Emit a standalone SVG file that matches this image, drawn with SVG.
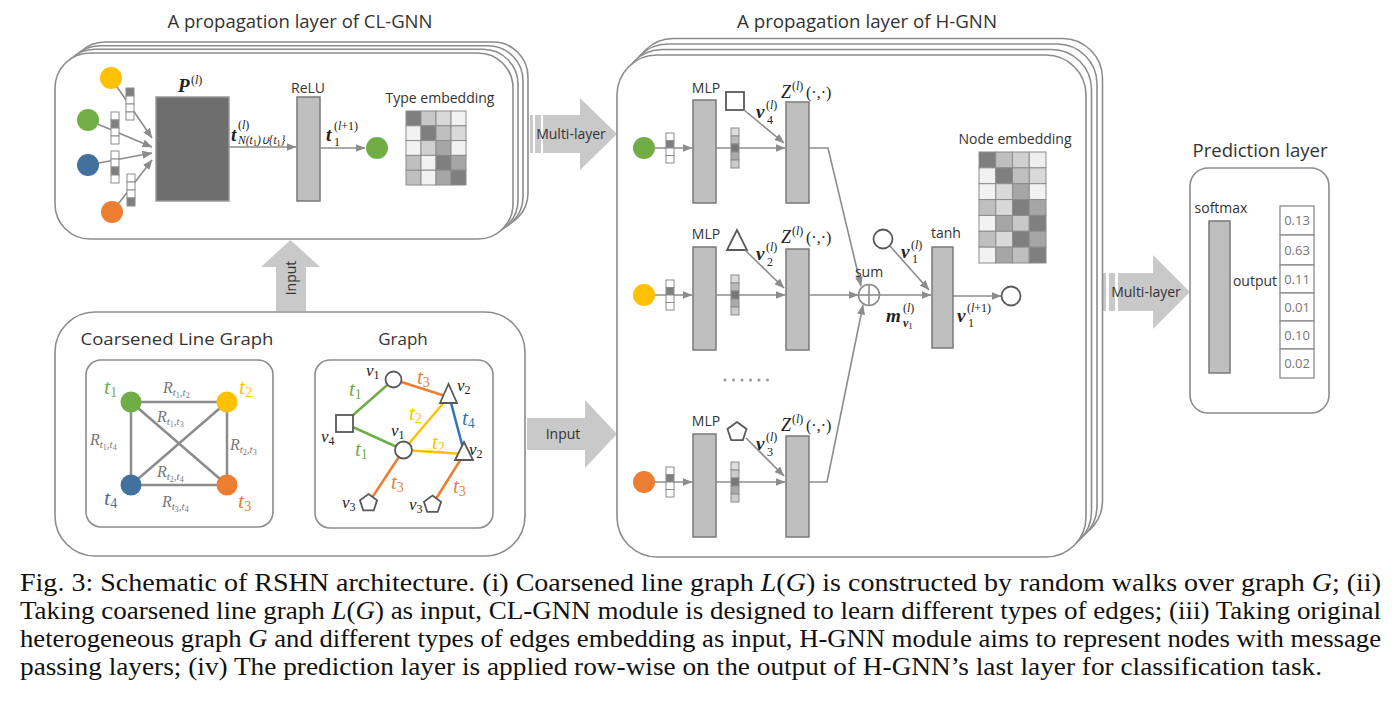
<svg xmlns="http://www.w3.org/2000/svg" width="1400" height="709" viewBox="0 0 1400 709">
<defs>
<style>
.box{fill:#fff;stroke:#8c8c8c;stroke-width:1.6}
.gb{fill:#bfbfbf;stroke:#7a7a7a;stroke-width:1.5}
.ln{fill:none;stroke:#8c8c8c;stroke-width:1.6}
.ar{marker-end:url(#ah)}
.cell{stroke:#8c8c8c;stroke-width:1}
.big{fill:#c9c9c9}
.sans{font-family:"Open Sans","Liberation Sans",sans-serif;fill:#333}
.serif{font-family:"Liberation Serif","Times New Roman",Times,serif;fill:#222}
.it{font-style:italic}
.up{font-style:normal;font-weight:normal}
.bi{font-style:italic;font-weight:bold}
.gray{fill:#767676}
.shape{fill:#fff;stroke:#595959;stroke-width:1.8}
.cap{font-family:"Liberation Serif","Times New Roman",Times,serif;font-size:25px;fill:#111}
.eg{stroke-width:2.5;fill:none}
</style>
<marker id="ah" viewBox="0 0 10 8" refX="9.5" refY="4" markerWidth="10" markerHeight="8" orient="auto" markerUnits="userSpaceOnUse"><path d="M0,0 L10,4 L0,8 z" fill="#8c8c8c"/></marker>
</defs>
<rect width="1400" height="709" fill="#fff"/>

<!-- Titles -->
<text class="sans" x="300" y="28" font-size="18" text-anchor="middle" textLength="265" lengthAdjust="spacingAndGlyphs">A propagation layer of CL-GNN</text>
<text class="sans" x="867" y="28" font-size="18" text-anchor="middle" textLength="260" lengthAdjust="spacingAndGlyphs">A propagation layer of H-GNN</text>
<text class="sans" x="1260" y="157" font-size="18" text-anchor="middle" textLength="135" lengthAdjust="spacingAndGlyphs">Prediction layer</text>

<!-- CL-GNN block -->
<g id="clgnn">
<rect class="box" x="70" y="42" width="458" height="186" rx="35"/>
<rect class="box" x="65" y="45.7" width="458" height="186" rx="35"/>
<rect class="box" x="60" y="49.3" width="458" height="186" rx="35"/>
<rect class="box" x="55" y="53" width="458" height="186" rx="35"/>
<g id="cl-inputs">
<line class="ln ar" x1="111" y1="78" x2="152" y2="138"/>
<line class="ln ar" x1="88" y1="120" x2="152" y2="147"/>
<line class="ln ar" x1="88" y1="165" x2="152" y2="153"/>
<line class="ln ar" x1="112" y1="212" x2="152" y2="160"/>
<circle cx="111" cy="78" r="11" fill="#ffc000"/>
<circle cx="88" cy="120" r="11" fill="#70ad47"/>
<circle cx="88" cy="165" r="11" fill="#41719c"/>
<circle cx="112" cy="212" r="11" fill="#ed7d31"/>
<g class="cell">
<rect x="126" y="88" width="8" height="8" fill="#7f7f7f"/><rect x="126" y="96" width="8" height="8" fill="#fff"/><rect x="126" y="104" width="8" height="8" fill="#fff"/><rect x="126" y="112" width="8" height="8" fill="#fff"/>
<rect x="111" y="112" width="8" height="8" fill="#fff"/><rect x="111" y="120" width="8" height="8" fill="#7f7f7f"/><rect x="111" y="128" width="8" height="8" fill="#fff"/><rect x="111" y="136" width="8" height="8" fill="#fff"/>
<rect x="111" y="151" width="8" height="8" fill="#fff"/><rect x="111" y="159" width="8" height="8" fill="#fff"/><rect x="111" y="167" width="8" height="8" fill="#7f7f7f"/><rect x="111" y="175" width="8" height="8" fill="#fff"/>
<rect x="127" y="174" width="8" height="8" fill="#fff"/><rect x="127" y="182" width="8" height="8" fill="#fff"/><rect x="127" y="190" width="8" height="8" fill="#fff"/><rect x="127" y="198" width="8" height="8" fill="#7f7f7f"/>
</g>
</g>
<g id="p-box">
<rect x="156" y="97" width="73" height="104" fill="#6e6e6e" stroke="#999" stroke-width="1.5"/>
<text class="serif bi" x="178" y="92" font-size="19">P</text>
<text class="serif" x="191" y="84" font-size="12">(<tspan class="it">l</tspan>)</text>
</g>
<g id="relu">
<rect class="gb" x="297" y="97" width="23" height="104"/>
<text class="sans" x="308" y="93" font-size="14" text-anchor="middle">ReLU</text>
</g>
<line class="ln ar" x1="229" y1="147" x2="296" y2="147"/>
<text class="serif bi" x="231" y="141" font-size="19">t</text>
<text class="serif" x="238" y="129" font-size="12">(<tspan class="it">l</tspan>)</text>
<text class="serif it" x="238" y="144" font-size="11.5">N(t<tspan class="up" font-size="8.5" dy="2">1</tspan><tspan dy="-2">)∪{t</tspan><tspan class="up" font-size="8.5" dy="2">1</tspan><tspan dy="-2">}</tspan></text>
<line class="ln ar" x1="320" y1="148" x2="365" y2="148"/>
<circle cx="377" cy="148" r="11" fill="#70ad47"/>
<text class="serif bi" x="326" y="141" font-size="19">t</text>
<text class="serif" x="334" y="130" font-size="12">(<tspan class="it">l</tspan>+1)</text>
<text class="serif" x="334" y="146" font-size="12">1</text>
<g id="type-emb">
<text class="sans" x="440" y="103" font-size="14" text-anchor="middle">Type embedding</text>
<g class="cell">
<rect x="406" y="111" width="15" height="14.8" fill="#7f7f7f"/><rect x="421" y="111" width="15" height="14.8" fill="#c8c8c8"/><rect x="436" y="111" width="15" height="14.8" fill="#d9d9d9"/><rect x="451" y="111" width="15" height="14.8" fill="#f2f2f2"/>
<rect x="406" y="125.8" width="15" height="14.8" fill="#f2f2f2"/><rect x="421" y="125.8" width="15" height="14.8" fill="#7f7f7f"/><rect x="436" y="125.8" width="15" height="14.8" fill="#bfbfbf"/><rect x="451" y="125.8" width="15" height="14.8" fill="#d9d9d9"/>
<rect x="406" y="140.6" width="15" height="14.8" fill="#f2f2f2"/><rect x="421" y="140.6" width="15" height="14.8" fill="#d0d0d0"/><rect x="436" y="140.6" width="15" height="14.8" fill="#a6a6a6"/><rect x="451" y="140.6" width="15" height="14.8" fill="#f2f2f2"/>
<rect x="406" y="155.4" width="15" height="14.8" fill="#bfbfbf"/><rect x="421" y="155.4" width="15" height="14.8" fill="#f2f2f2"/><rect x="436" y="155.4" width="15" height="14.8" fill="#7f7f7f"/><rect x="451" y="155.4" width="15" height="14.8" fill="#a6a6a6"/>
<rect x="406" y="170.2" width="15" height="14.8" fill="#bfbfbf"/><rect x="421" y="170.2" width="15" height="14.8" fill="#f2f2f2"/><rect x="436" y="170.2" width="15" height="14.8" fill="#a6a6a6"/><rect x="451" y="170.2" width="15" height="14.8" fill="#7f7f7f"/>
</g>
</g>
</g>

<!-- Big arrows -->
<g id="big-arrows">
<rect class="big" x="530" y="115" width="3" height="38"/><rect class="big" x="535" y="115" width="6" height="38"/>
<polygon class="big" points="543,115 580,115 580,98 617,134 580,170 580,153 543,153"/>
<text class="sans" x="571" y="139" font-size="14" text-anchor="middle">Multi-layer</text>
<polygon class="big" points="276,311 276,267 261,267 290.5,240 320,267 306,267 306,311"/>
<text class="sans" font-size="14" text-anchor="middle" transform="translate(296,278) rotate(-90)">Input</text>
<polygon class="big" points="527,418 585,418 585,400 617,434 585,468 585,450 527,450"/>
<text class="sans" x="563" y="439" font-size="14" text-anchor="middle">Input</text>
<rect class="big" x="1103" y="273" width="3" height="38"/><rect class="big" x="1109" y="273" width="6" height="38"/>
<polygon class="big" points="1118,273 1153,273 1153,255 1190,292 1153,329 1153,311 1118,311"/>
<text class="sans" x="1146" y="297" font-size="14" text-anchor="middle">Multi-layer</text>
</g>

<!-- Bottom-left inputs -->
<g id="inputs-box">
<rect class="box" x="55" y="312" width="470" height="244" rx="40"/>
<text class="sans" x="177" y="345" font-size="17" text-anchor="middle" textLength="193" lengthAdjust="spacingAndGlyphs">Coarsened  Line Graph</text>
<text class="sans" x="403" y="345" font-size="17" text-anchor="middle">Graph</text>
</g>
<g id="cl-graph">
<rect class="box" x="86" y="360" width="187" height="167" rx="15"/>
<g stroke="#8c8c8c" stroke-width="2.5">
<line x1="131" y1="402" x2="227" y2="402"/><line x1="131" y1="402" x2="131" y2="485"/><line x1="227" y1="402" x2="227" y2="485"/>
<line x1="131" y1="485" x2="227" y2="485"/><line x1="131" y1="402" x2="227" y2="485"/><line x1="227" y1="402" x2="131" y2="485"/>
</g>
<circle cx="131" cy="402" r="10.5" fill="#70ad47"/>
<circle cx="227" cy="402" r="10.5" fill="#ffc000"/>
<circle cx="131" cy="485" r="10.5" fill="#41719c"/>
<circle cx="227" cy="485" r="10.5" fill="#ed7d31"/>
<g class="serif it" font-size="22">
<text x="104" y="394" fill="#70ad47">t<tspan class="up" dy="3" font-size="14">1</tspan></text>
<text x="239" y="394" fill="#ffc000">t<tspan class="up" dy="3" font-size="14">2</tspan></text>
<text x="104" y="505" fill="#41719c">t<tspan class="up" dy="3" font-size="14">4</tspan></text>
<text x="238" y="508" fill="#ed7d31">t<tspan class="up" dy="3" font-size="14">3</tspan></text>
</g>
<g class="serif it" font-size="16">
<text x="163" y="393" class="gray">R<tspan dy="3" font-size="11">t</tspan><tspan class="up" dy="2" font-size="8">1</tspan><tspan dy="-2" font-size="11">,t</tspan><tspan class="up" dy="2" font-size="8">2</tspan></text>
<text x="157" y="422" class="gray">R<tspan dy="3" font-size="11">t</tspan><tspan class="up" dy="2" font-size="8">1</tspan><tspan dy="-2" font-size="11">,t</tspan><tspan class="up" dy="2" font-size="8">3</tspan></text>
<text x="90" y="445" class="gray">R<tspan dy="3" font-size="11">t</tspan><tspan class="up" dy="2" font-size="8">1</tspan><tspan dy="-2" font-size="11">,t</tspan><tspan class="up" dy="2" font-size="8">4</tspan></text>
<text x="230" y="450" class="gray">R<tspan dy="3" font-size="11">t</tspan><tspan class="up" dy="2" font-size="8">2</tspan><tspan dy="-2" font-size="11">,t</tspan><tspan class="up" dy="2" font-size="8">3</tspan></text>
<text x="157" y="477" class="gray">R<tspan dy="3" font-size="11">t</tspan><tspan class="up" dy="2" font-size="8">2</tspan><tspan dy="-2" font-size="11">,t</tspan><tspan class="up" dy="2" font-size="8">4</tspan></text>
<text x="162" y="507" class="gray">R<tspan dy="3" font-size="11">t</tspan><tspan class="up" dy="2" font-size="8">3</tspan><tspan dy="-2" font-size="11">,t</tspan><tspan class="up" dy="2" font-size="8">4</tspan></text>
</g>
</g>
<g id="het-graph">
<rect class="box" x="315" y="360" width="178" height="168" rx="15"/>
<line class="eg" stroke="#70ad47" x1="344" y1="423" x2="393.5" y2="379.5"/>
<line class="eg" stroke="#70ad47" x1="344" y1="423" x2="403.5" y2="450"/>
<line class="eg" stroke="#ed7d31" x1="393.5" y1="379.5" x2="448.5" y2="397"/>
<line class="eg" stroke="#ffc000" x1="403.5" y1="450" x2="448.5" y2="397"/>
<line class="eg" stroke="#ffc000" x1="403.5" y1="450" x2="464" y2="454"/>
<line class="eg" stroke="#2e75b6" x1="450" y1="399" x2="464" y2="452"/>
<line class="eg" stroke="#ed7d31" x1="403.5" y1="450" x2="368.5" y2="503"/>
<line class="eg" stroke="#ed7d31" x1="464" y1="454" x2="432.5" y2="504.5"/>
<circle class="shape" cx="393.5" cy="379.5" r="8"/>
<polygon class="shape" points="448.5,384 440,403 457,403"/>
<rect class="shape" x="336" y="415" width="17" height="17"/>
<circle class="shape" cx="403.5" cy="450" r="8.5"/>
<polygon class="shape" points="464,442 455,460 473,460"/>
<polygon class="shape" points="368.5,494 377.06,500.22 373.79,510.28 363.21,510.28 359.94,500.22"/>
<polygon class="shape" points="432.5,495.5 441.06,501.72 437.79,511.78 427.21,511.78 423.94,501.72"/>
<g class="serif it" font-size="17">
<text x="366" y="376">v<tspan class="up" dy="3" font-size="12">1</tspan></text>
<text x="457" y="391">v<tspan class="up" dy="3" font-size="12">2</tspan></text>
<text x="321" y="442">v<tspan class="up" dy="3" font-size="12">4</tspan></text>
<text x="391" y="436">v<tspan class="up" dy="3" font-size="12">1</tspan></text>
<text x="469" y="455">v<tspan class="up" dy="3" font-size="12">2</tspan></text>
<text x="342" y="508">v<tspan class="up" dy="3" font-size="12">3</tspan></text>
<text x="409" y="510">v<tspan class="up" dy="3" font-size="12">3</tspan></text>
</g>
<g class="serif it" font-size="21">
<text x="349" y="396" fill="#70ad47">t<tspan class="up" dy="3" font-size="14">1</tspan></text>
<text x="417" y="384" fill="#ed7d31">t<tspan class="up" dy="3" font-size="14">3</tspan></text>
<text x="409" y="420" fill="#ffc000">t<tspan class="up" dy="3" font-size="14">2</tspan></text>
<text x="462" y="425" fill="#2e75b6">t<tspan class="up" dy="3" font-size="14">4</tspan></text>
<text x="355" y="456" fill="#70ad47">t<tspan class="up" dy="3" font-size="14">1</tspan></text>
<text x="432" y="449" fill="#ffc000">t<tspan class="up" dy="3" font-size="14">2</tspan></text>
<text x="391" y="489" fill="#ed7d31">t<tspan class="up" dy="3" font-size="14">3</tspan></text>
<text x="453" y="493" fill="#ed7d31">t<tspan class="up" dy="3" font-size="14">3</tspan></text>
</g>
</g>

<!-- H-GNN block -->
<g id="hgnn">
<rect class="box" x="633.5" y="38.5" width="469" height="502" rx="40"/>
<rect class="box" x="628" y="44" width="469" height="502" rx="40"/>
<rect class="box" x="622.5" y="49.5" width="469" height="502" rx="40"/>
<rect class="box" x="617" y="55" width="469" height="502" rx="40"/>
</g>

<g id="row1">
<line class="ln ar" x1="655" y1="148" x2="692" y2="148"/>
<circle cx="644" cy="148" r="11" fill="#70ad47"/>
<g class="cell"><rect x="666" y="133" width="8" height="7.5" fill="#fff"/><rect x="666" y="140.5" width="8" height="7.5" fill="#7f7f7f"/><rect x="666" y="148" width="8" height="7.5" fill="#fff"/><rect x="666" y="155.5" width="8" height="7.5" fill="#fff"/></g>
<rect class="gb" x="693" y="100" width="23" height="103"/>
<text class="sans" x="706" y="93" font-size="14" text-anchor="middle">MLP</text>
<line class="ln ar" x1="716" y1="148" x2="785" y2="148"/>
<g class="cell"><rect x="731" y="128" width="8" height="8" fill="#ddd"/><rect x="731" y="136" width="8" height="8" fill="#bbb"/><rect x="731" y="144" width="8" height="8" fill="#777"/><rect x="731" y="152" width="8" height="8" fill="#aaa"/><rect x="731" y="160" width="8" height="8" fill="#ccc"/></g>
<rect class="gb" x="786" y="102" width="23" height="101"/>
<text class="serif it" x="781" y="98" font-size="18">Z</text>
<text class="serif" x="792" y="90" font-size="12">(<tspan class="it">l</tspan>)</text>
<text class="serif" x="806" y="98" font-size="16">(·,·)</text>
<rect class="shape" x="726" y="92" width="18" height="18"/>
<line class="ln ar" x1="744" y1="110" x2="784" y2="143"/>
<text class="serif bi" x="756" y="118" font-size="19">v</text>
<text class="serif" x="766" y="109" font-size="12">(<tspan class="it">l</tspan>)</text>
<text class="serif" x="767" y="124" font-size="12">4</text>
</g>

<g id="row2" transform="translate(0,147)">
<line class="ln ar" x1="655" y1="148" x2="692" y2="148"/>
<circle cx="644" cy="148" r="11" fill="#ffc000"/>
<g class="cell"><rect x="666" y="133" width="8" height="7.5" fill="#fff"/><rect x="666" y="140.5" width="8" height="7.5" fill="#7f7f7f"/><rect x="666" y="148" width="8" height="7.5" fill="#fff"/><rect x="666" y="155.5" width="8" height="7.5" fill="#fff"/></g>
<rect class="gb" x="693" y="100" width="23" height="103"/>
<text class="sans" x="706" y="92" font-size="14" text-anchor="middle">MLP</text>
<line class="ln ar" x1="716" y1="148" x2="785" y2="148"/>
<g class="cell"><rect x="731" y="128" width="8" height="8" fill="#ddd"/><rect x="731" y="136" width="8" height="8" fill="#bbb"/><rect x="731" y="144" width="8" height="8" fill="#777"/><rect x="731" y="152" width="8" height="8" fill="#aaa"/><rect x="731" y="160" width="8" height="8" fill="#ccc"/></g>
<rect class="gb" x="786" y="102" width="23" height="101"/>
<text class="serif it" x="781" y="96" font-size="18">Z</text>
<text class="serif" x="792" y="88" font-size="12">(<tspan class="it">l</tspan>)</text>
<text class="serif" x="806" y="96" font-size="16">(·,·)</text>
<polygon class="shape" points="737,83 727,103 747,103"/>
<line class="ln ar" x1="745" y1="103" x2="784" y2="141"/>
<text class="serif bi" x="756" y="113" font-size="19">v</text>
<text class="serif" x="766" y="104" font-size="12">(<tspan class="it">l</tspan>)</text>
<text class="serif" x="767" y="119" font-size="12">2</text>
</g>

<g id="dots" fill="#999">
<circle cx="725" cy="380" r="1.5"/><circle cx="733.5" cy="380" r="1.5"/><circle cx="742" cy="380" r="1.5"/><circle cx="750.5" cy="380" r="1.5"/><circle cx="759" cy="380" r="1.5"/><circle cx="767.5" cy="380" r="1.5"/>
</g>

<g id="row3" transform="translate(0,334)">
<line class="ln ar" x1="655" y1="148" x2="692" y2="148"/>
<circle cx="644" cy="148" r="11" fill="#ed7d31"/>
<g class="cell"><rect x="666" y="133" width="8" height="7.5" fill="#fff"/><rect x="666" y="140.5" width="8" height="7.5" fill="#7f7f7f"/><rect x="666" y="148" width="8" height="7.5" fill="#fff"/><rect x="666" y="155.5" width="8" height="7.5" fill="#fff"/></g>
<rect class="gb" x="693" y="100" width="23" height="103"/>
<text class="sans" x="706" y="92" font-size="14" text-anchor="middle">MLP</text>
<line class="ln ar" x1="716" y1="148" x2="785" y2="148"/>
<g class="cell"><rect x="731" y="128" width="8" height="8" fill="#ddd"/><rect x="731" y="136" width="8" height="8" fill="#ccc"/><rect x="731" y="144" width="8" height="8" fill="#777"/><rect x="731" y="152" width="8" height="8" fill="#aaa"/><rect x="731" y="160" width="8" height="8" fill="#ccc"/></g>
<rect class="gb" x="786" y="102" width="23" height="101"/>
<text class="serif it" x="781" y="97" font-size="18">Z</text>
<text class="serif" x="792" y="89" font-size="12">(<tspan class="it">l</tspan>)</text>
<text class="serif" x="806" y="97" font-size="16">(·,·)</text>
<polygon class="shape" points="737,88 746.51,94.91 742.88,106.09 731.12,106.09 727.49,94.91"/>
<line class="ln ar" x1="746" y1="104" x2="784" y2="142"/>
<text class="serif bi" x="756" y="116" font-size="19">v</text>
<text class="serif" x="766" y="107" font-size="12">(<tspan class="it">l</tspan>)</text>
<text class="serif" x="767" y="122" font-size="12">3</text>
</g>

<g id="connectors">
<path class="ln ar" d="M809,148 L828,148 L861,286"/>
<line class="ln ar" x1="809" y1="295" x2="858" y2="295"/>
<path class="ln ar" d="M809,482 L827,482 L863,305"/>
<line class="ln ar" x1="890" y1="246" x2="929" y2="290"/>
<line class="ln ar" x1="880" y1="295" x2="931" y2="295"/>
<line class="ln ar" x1="953" y1="296" x2="1001" y2="296"/>
<line class="ln ar" x1="1230" y1="293" x2="1279" y2="293"/>
</g>

<g id="sum">
<circle cx="869" cy="295" r="10.5" fill="#fff" stroke="#8c8c8c" stroke-width="1.6"/>
<line class="ln" x1="858.5" y1="295" x2="879.5" y2="295"/><line class="ln" x1="869" y1="284.5" x2="869" y2="305.5"/>
<text class="sans" x="869" y="277" font-size="14" text-anchor="middle">sum</text>
<text class="serif bi" x="886" y="322" font-size="19">m</text>
<text class="serif" x="903" y="312" font-size="12">(<tspan class="it">l</tspan>)</text>
<text class="serif bi" x="903" y="327" font-size="12">v<tspan class="up" font-size="9" dy="2">1</tspan></text>
</g>
<g id="v1-in">
<circle cx="883" cy="239" r="9.5" fill="#fff" stroke="#595959" stroke-width="1.8"/>
<text class="serif bi" x="901" y="258" font-size="19">v</text>
<text class="serif" x="911" y="249" font-size="12">(<tspan class="it">l</tspan>)</text>
<text class="serif" x="912" y="263" font-size="12">1</text>
</g>
<g id="tanh">
<rect class="gb" x="932" y="247" width="21" height="101"/>
<text class="sans" x="946" y="238" font-size="14" text-anchor="middle">tanh</text>
</g>
<g id="v1-out">
<circle cx="1011" cy="296" r="9.5" fill="#fff" stroke="#595959" stroke-width="1.8"/>
<text class="serif bi" x="957" y="322" font-size="19">v</text>
<text class="serif" x="967" y="312" font-size="12">(<tspan class="it">l</tspan>+1)</text>
<text class="serif" x="968" y="327" font-size="12">1</text>
</g>
<g id="node-emb">
<text class="sans" x="1015" y="144" font-size="14" text-anchor="middle">Node embedding</text>
<g class="cell">
<rect x="979" y="152" width="16.75" height="15.86" fill="#7f7f7f"/><rect x="995.75" y="152" width="16.75" height="15.86" fill="#bfbfbf"/><rect x="1012.5" y="152" width="16.75" height="15.86" fill="#d0d0d0"/><rect x="1029.25" y="152" width="16.75" height="15.86" fill="#eee"/>
<rect x="979" y="167.86" width="16.75" height="15.86" fill="#f2f2f2"/><rect x="995.75" y="167.86" width="16.75" height="15.86" fill="#7f7f7f"/><rect x="1012.5" y="167.86" width="16.75" height="15.86" fill="#bfbfbf"/><rect x="1029.25" y="167.86" width="16.75" height="15.86" fill="#d9d9d9"/>
<rect x="979" y="183.71" width="16.75" height="15.86" fill="#f2f2f2"/><rect x="995.75" y="183.71" width="16.75" height="15.86" fill="#d9d9d9"/><rect x="1012.5" y="183.71" width="16.75" height="15.86" fill="#a6a6a6"/><rect x="1029.25" y="183.71" width="16.75" height="15.86" fill="#f2f2f2"/>
<rect x="979" y="199.57" width="16.75" height="15.86" fill="#bfbfbf"/><rect x="995.75" y="199.57" width="16.75" height="15.86" fill="#d9d9d9"/><rect x="1012.5" y="199.57" width="16.75" height="15.86" fill="#7f7f7f"/><rect x="1029.25" y="199.57" width="16.75" height="15.86" fill="#a6a6a6"/>
<rect x="979" y="215.43" width="16.75" height="15.86" fill="#f2f2f2"/><rect x="995.75" y="215.43" width="16.75" height="15.86" fill="#a6a6a6"/><rect x="1012.5" y="215.43" width="16.75" height="15.86" fill="#c8c8c8"/><rect x="1029.25" y="215.43" width="16.75" height="15.86" fill="#7f7f7f"/>
<rect x="979" y="231.29" width="16.75" height="15.86" fill="#bfbfbf"/><rect x="995.75" y="231.29" width="16.75" height="15.86" fill="#d9d9d9"/><rect x="1012.5" y="231.29" width="16.75" height="15.86" fill="#7f7f7f"/><rect x="1029.25" y="231.29" width="16.75" height="15.86" fill="#a6a6a6"/>
<rect x="979" y="247.14" width="16.75" height="15.86" fill="#f2f2f2"/><rect x="995.75" y="247.14" width="16.75" height="15.86" fill="#a6a6a6"/><rect x="1012.5" y="247.14" width="16.75" height="15.86" fill="#bfbfbf"/><rect x="1029.25" y="247.14" width="16.75" height="15.86" fill="#7f7f7f"/>
</g>
</g>

<!-- Prediction layer -->
<g id="prediction">
<rect class="box" x="1190" y="168" width="139" height="245" rx="18"/>
<text class="sans" x="1221" y="213" font-size="14" text-anchor="middle">softmax</text>
<rect class="gb" x="1209" y="221" width="21" height="152"/>
<text class="sans" x="1255" y="286" font-size="14" text-anchor="middle">output</text>
<g fill="#fff" stroke="#8c8c8c" stroke-width="1.3">
<rect x="1280" y="206" width="34" height="29"/><rect x="1280" y="235" width="34" height="30"/><rect x="1280" y="265" width="34" height="28"/><rect x="1280" y="293" width="34" height="28"/><rect x="1280" y="321" width="34" height="28"/><rect x="1280" y="349" width="34" height="29"/>
</g>
<g class="sans" font-size="13" text-anchor="middle">
<text x="1297" y="225" fill="#777">0.13</text><text x="1297" y="255" fill="#777">0.63</text><text x="1297" y="284" fill="#777">0.11</text><text x="1297" y="312" fill="#777">0.01</text><text x="1297" y="340" fill="#777">0.10</text><text x="1297" y="368" fill="#777">0.02</text>
</g>
</g>

<!-- Caption -->
<g id="caption">
<text class="cap" x="20" y="591" textLength="1361" lengthAdjust="spacingAndGlyphs">Fig. 3: Schematic of RSHN architecture. (i) Coarsened line graph <tspan font-style="italic">L</tspan>(<tspan font-style="italic">G</tspan>) is constructed by random walks over graph <tspan font-style="italic">G</tspan>; (ii)</text>
<text class="cap" x="20" y="619" textLength="1361" lengthAdjust="spacingAndGlyphs">Taking coarsened line graph <tspan font-style="italic">L</tspan>(<tspan font-style="italic">G</tspan>) as input, CL-GNN module is designed to learn different types of edges; (iii) Taking original</text>
<text class="cap" x="20" y="647" textLength="1361" lengthAdjust="spacingAndGlyphs">heterogeneous graph <tspan font-style="italic">G</tspan> and different types of edges embedding as input, H-GNN module aims to represent nodes with message</text>
<text class="cap" x="20" y="675" textLength="1302" lengthAdjust="spacingAndGlyphs">passing layers; (iv) The prediction layer is applied row-wise on the output of H-GNN’s last layer for classification task.</text>
</g>
</svg>
